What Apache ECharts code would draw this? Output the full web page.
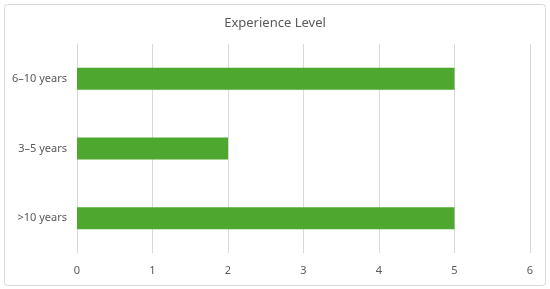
<!DOCTYPE html>
<html><head><meta charset="utf-8">
<script src="https://cdn.jsdelivr.net/npm/echarts@6/dist/echarts.min.js"></script>
<style>html,body{margin:0;padding:0;background:#fff}#c{width:550px;height:289px}</style>
</head><body><div id="c"></div>
<script>
const categories = ['>10 years', '3–5 years', '6–10 years'];
const values = [5, 2, 5];
const xTicks = [0, 1, 2, 3, 4, 5, 6];

const chart = echarts.init(document.getElementById('c'), null, {renderer: 'canvas'});
chart.setOption({
  animation: false,
  backgroundColor: '#fff',
  textStyle: {fontFamily: 'Noto Sans'},
  graphic: [{
    type: 'rect', left: 4, top: 4, z: -1,
    shape: {width: 541, height: 281, r: 3},
    style: {fill: '#fff', stroke: '#d9d9d9', lineWidth: 1}
  }],
  title: {
    text: 'Experience Level', left: 'center', top: 12,
    textStyle: {fontSize: 13, fontWeight: 'normal', color: '#595959', fontFamily: 'Noto Sans'}
  },
  grid: {left: 77, right: 20, top: 44, bottom: 36, containLabel: false},
  xAxis: {
    type: 'value', min: xTicks[0], max: xTicks[xTicks.length - 1], interval: 1,
    axisLine: {show: false}, axisTick: {show: false},
    splitLine: {show: true, lineStyle: {color: '#d9d9d9', width: 1}},
    axisLabel: {color: '#595959', fontSize: 11, margin: 12}
  },
  yAxis: {
    type: 'category', data: categories,
    axisLine: {show: true, lineStyle: {color: '#d9d9d9'}}, axisTick: {show: false},
    axisLabel: {color: '#595959', fontSize: 11, margin: 10}
  },
  series: [{
    type: 'bar', data: values, barWidth: 22,
    itemStyle: {color: '#4ea72e'}
  }]
});
</script></body></html>
